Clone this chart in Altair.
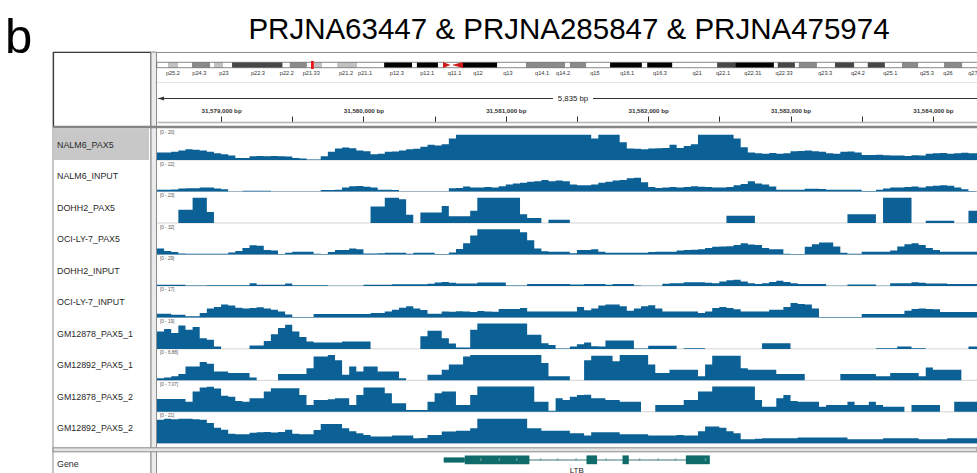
import altair as alt
import pandas as pd

FONT = "Liberation Sans"
BLUE = "#0b6196"
GENE_COLOR = "#0f6b69"
GENE_LINE = "#7ea3a3"

PANEL_LETTER = "b"
TITLE = "PRJNA63447 & PRJNA285847 & PRJNA475974"

# ---------------- genomic window / ruler ----------------
REGION_START = 31578550
REGION_END = 31584310
BIN_BP = 50
SPAN_TEXT = "5,835 bp"
RULER_TICKS = [31579000, 31579500, 31580000, 31580500, 31581000, 31581500,
               31582000, 31582500, 31583000, 31583500, 31584000]

# ---------------- tracks ----------------
TRACK_NAMES = ["NALM6_PAX5", "NALM6_INPUT", "DOHH2_PAX5", "OCI-LY-7_PAX5", "DOHH2_INPUT",
               "OCI-LY-7_INPUT", "GM12878_PAX5_1", "GM12892_PAX5_1", "GM12878_PAX5_2", "GM12892_PAX5_2"]
TRACK_MAX = [20, 22, 23, 32, 29, 17, 19, 6.88, 7.07, 21]
RANGE_LABELS = ["[0 - 20]", "[0 - 22]", "[0 - 23]", "[0 - 32]", "[0 - 29]", "[0 - 17]",
                "[0 - 19]", "[0 - 6.88]", "[0 - 7.07]", "[0 - 21]"]

NALM6_PAX5 = [
    5.9, 5.9, 6.5, 7.5, 8.5, 8.2, 7.5, 6.5, 5.3, 4.5,
    3.5, 1.5, 1.5, 3.0, 3.2, 3.0, 3.2, 3.0, 2.8, 1.5,
    1.2, 0.4, 0.3, 3.0, 6.5, 9.0, 9.8, 9.3, 7.5, 7.0,
    4.5, 5.0, 6.5, 6.8, 7.5, 8.5, 8.8, 10.5, 12.0, 11.5,
    12.5, 17.0, 20, 20, 20, 20, 20, 20, 20, 20,
    20, 20, 20, 20, 20, 20, 20, 20, 20, 20,
    20, 17.0, 20, 20, 20, 14.0, 9.0, 8.8, 8.5, 9.0,
    9.3, 9.5, 12.0, 9.5, 11.0, 12.5, 20, 20, 20, 20,
    20, 17.0, 10.0, 6.0, 5.3, 5.0, 5.5, 5.0, 5.3, 7.0,
    7.2, 7.5, 7.0, 6.5, 5.3, 5.0, 6.5, 6.7, 6.0, 4.0,
    4.0, 4.2, 3.8, 3.5, 3.5, 3.2, 3.8, 3.5, 5.0, 5.3,
    5.5, 5.0, 5.3, 5.8, 5.3, 5.3]

NALM6_INPUT = [
    1.5, 1.5, 1.8, 2.5, 2.9, 2.9, 3.5, 3.5, 2.5, 2.0,
    0.3, 0.3, 0.6, 0.6, 0.6, 0.6, 0.2, 0.2, 0.2, 0.2,
    0.2, 0.2, 0.2, 1.2, 1.3, 1.5, 3.5, 4.5, 4.7, 4.2,
    3.5, 1.5, 1.5, 1.2, 0.2, 0.2, 0.2, 0.2, 0.2, 0.2,
    0.2, 2.9, 3.0, 4.4, 3.5, 3.5, 3.8, 3.5, 4.5, 6.0,
    7.0, 7.5, 8.5, 9.0, 10.0, 9.0, 9.5, 9.0, 6.0, 5.5,
    5.5, 6.0, 7.5, 8.5, 9.5, 10.0, 11.5, 12.0, 8.0, 4.0,
    3.0, 3.5, 4.0, 3.5, 4.0, 4.5, 4.2, 4.0, 3.5, 3.5,
    4.0, 5.5, 6.5, 8.8, 7.0, 6.0, 4.4, 1.5, 1.5, 1.5,
    1.6, 2.3, 2.3, 2.2, 1.5, 1.5, 1.5, 1.5, 1.5, 0.4,
    0.4, 1.5, 2.5, 3.5, 3.5, 4.0, 4.4, 3.5, 4.5, 5.0,
    5.5, 5.0, 3.5, 2.0, 0.5, 0.3]

DOHH2_PAX5 = [
    0, 0, 0, 12, 12, 23, 23, 10, 0, 0,
    0, 0, 0, 0, 0, 0, 0, 0, 0, 0,
    0, 0, 0, 0, 0, 0, 0, 0, 0, 0,
    15, 15, 23, 23, 21.5, 7.5, 0, 9.6, 9.6, 9.6,
    15.5, 6, 6, 6, 11, 23, 23, 23, 23, 23,
    23, 8, 4.5, 4.5, 0, 3, 3, 3, 0, 0,
    0, 0, 0, 0, 0, 0, 0, 0, 0, 0,
    0, 0, 0, 0, 0, 0, 0, 0, 0, 0,
    6.6, 6.6, 6.6, 6.6, 0, 0, 0, 0, 0, 0,
    0, 0, 0, 0, 0, 0, 0, 8, 8, 8,
    8, 0, 23, 23, 23, 23, 0, 0, 2, 2,
    2, 2, 0, 0, 11, 11]

OCI_LY7_PAX5 = [
    7.6, 4.2, 3.0, 1.3, 0.8, 0.8, 0.8, 0.8, 0.8, 0.8,
    2.5, 4.5, 8.0, 11.5, 11.0, 5.5, 5.0, 0.5, 2.0, 3.4,
    3.4, 3.4, 1.0, 0.5, 3.0, 5.5, 5.5, 7.6, 6.5, 1.3,
    1.3, 1.5, 2.0, 2.0, 2.0, 1.0, 2.0, 2.0, 2.0, 0.5,
    0.5, 2.5, 7.0, 14.0, 24.0, 32, 32, 32, 32, 32,
    32, 28.0, 18.0, 7.6, 4.0, 3.4, 3.4, 3.4, 1.5, 5.5,
    5.5, 6.5, 3.4, 2.0, 2.0, 2.0, 2.0, 2.0, 2.0, 3.0,
    3.4, 3.4, 3.4, 5.0, 5.5, 6.0, 6.5, 8.0, 9.7, 10.0,
    10.5, 12.0, 14.0, 12.6, 12.0, 8.0, 6.7, 6.5, 1.0, 0.5,
    0.5, 9.7, 13.0, 15.0, 15.0, 10.0, 2.0, 1.0, 1.0, 3.4,
    3.4, 3.4, 3.4, 5.0, 10.0, 13.0, 14.0, 11.8, 8.0, 5.5,
    3.4, 3.4, 3.4, 3.4, 3.4, 3.4]

DOHH2_INPUT = [
    1.2, 1.2, 1.2, 1.2, 0.4, 0.4, 0.4, 0.8, 0.8, 0.8,
    0.8, 0.8, 0.8, 3.0, 1.2, 1.2, 1.2, 1.2, 2.7, 0.8,
    0.8, 0.8, 0.8, 0.8, 0.3, 0.3, 0.3, 0.3, 0.3, 1.2,
    1.2, 1.2, 1.2, 2.0, 2.0, 2.0, 2.0, 2.0, 2.5, 3.9,
    4.6, 3.5, 2.7, 2.7, 2.7, 3.9, 3.9, 3.9, 3.9, 0.4,
    0.4, 0.4, 2.3, 2.3, 2.3, 2.3, 2.3, 2.3, 1.5, 1.5,
    2.3, 2.3, 2.3, 1.2, 2.3, 2.3, 2.3, 0.5, 0.3, 0.3,
    0.3, 2.5, 3.0, 3.0, 4.3, 4.3, 4.3, 3.5, 3.0, 5.0,
    6.5, 7.0, 5.0, 3.0, 2.3, 3.0, 4.6, 6.0, 4.6, 3.0,
    2.3, 2.3, 2.3, 2.3, 0.3, 0.3, 0.3, 1.5, 1.5, 1.5,
    1.5, 0.3, 0.3, 3.0, 3.0, 3.0, 4.3, 3.5, 2.8, 2.8,
    2.8, 2.3, 2.3, 2.3, 2.3, 2.3]

OCI_LY7_INPUT = [
    2.5, 2.5, 1.8, 1.8, 0.7, 0.7, 3.0, 6.0, 7.0, 8.6,
    8.0, 6.5, 6.0, 6.3, 6.8, 6.0, 5.2, 4.0, 2.0, 0.3,
    0.3, 0.3, 2.3, 2.3, 2.3, 2.3, 2.3, 2.3, 2.3, 2.3,
    3.0, 3.0, 4.0, 5.2, 6.5, 7.5, 6.0, 5.0, 2.5, 2.5,
    4.0, 3.8, 4.2, 4.0, 3.6, 4.3, 4.0, 3.8, 5.7, 5.7,
    5.7, 6.3, 4.0, 4.0, 4.0, 4.0, 4.0, 4.0, 4.0, 7.0,
    4.8, 6.0, 8.0, 8.6, 8.6, 7.5, 4.5, 6.0, 7.5, 8.2,
    6.0, 4.0, 4.0, 4.0, 4.0, 4.0, 3.0, 4.0, 6.3, 7.0,
    6.3, 5.5, 4.0, 4.0, 4.0, 4.0, 5.2, 5.2, 7.0, 9.7,
    9.0, 8.6, 6.0, 0.3, 0.3, 0.3, 0.3, 0.3, 0.3, 2.3,
    2.3, 2.3, 2.3, 2.3, 2.3, 4.5, 5.7, 6.0, 5.7, 5.5,
    3.6, 3.6, 3.6, 3.6, 3.6, 3.6]

GM12878_PAX5_1 = [
    13.0, 15.0, 12.0, 17.5, 14.4, 16.5, 8.0, 6.8, 1.8, 0,
    0, 0, 0, 2.5, 2.5, 6.0, 11.0, 15.7, 18.2, 13.0,
    9.0, 5.5, 4.8, 4.8, 4.8, 4.8, 5.6, 5.6, 5.6, 5.6,
    0, 0, 0, 0, 0, 0, 0, 9.4, 13.7, 13.7,
    8.0, 4.0, 1.0, 1.0, 14.4, 19, 19, 19, 19, 19,
    19, 19, 10.6, 10.6, 4.3, 3.0, 0.3, 0.3, 1.8, 3.5,
    4.8, 2.0, 1.8, 6.3, 6.3, 6.3, 6.3, 0.3, 0.3, 2.3,
    2.3, 2.3, 2.3, 0, 0.5, 0.5, 0.5, 0, 0, 0,
    0, 0, 0, 0, 0, 4.3, 4.3, 4.3, 4.3, 0,
    0, 0, 0, 0, 0, 0, 0, 0, 0, 0,
    0, 0.5, 0.5, 0.5, 1.8, 1.8, 0.5, 0.5, 0, 0,
    0, 0, 0, 0, 1.8, 1.8]

GM12892_PAX5_1 = [
    0.6, 0.8, 1.1, 1.7, 3.8, 3.8, 5.0, 4.5, 2.4, 2.4,
    2.0, 2.0, 2.0, 0.8, 0, 0, 0, 1.7, 1.7, 1.7,
    1.7, 3.3, 6.5, 6.5, 6.88, 5.5, 1.5, 3.8, 2.4, 3.8,
    3.8, 2.4, 2.4, 2.4, 0.6, 0, 0, 0, 1.5, 1.5,
    2.9, 4.3, 4.3, 6.5, 6.88, 6.88, 6.88, 6.88, 6.88, 6.88,
    6.88, 6.88, 6.88, 6.88, 4.7, 1.1, 1.1, 1.1, 0, 0,
    5.5, 6.7, 6.7, 6.7, 5.2, 6.88, 6.88, 6.88, 6.88, 4.3,
    2.0, 2.0, 2.9, 2.9, 2.9, 2.9, 1.1, 4.3, 6.7, 6.7,
    6.7, 6.7, 3.3, 2.9, 2.9, 2.9, 2.9, 1.7, 1.7, 1.7,
    1.7, 0, 0, 0, 0, 0, 1.7, 1.7, 1.7, 1.7,
    1.7, 1.1, 1.1, 2.0, 2.0, 2.0, 2.0, 1.1, 3.5, 2.9,
    2.9, 2.9, 2.9, 0, 0, 0]

GM12878_PAX5_2 = [
    3.6, 3.6, 3.6, 3.6, 2.8, 5.7, 6.8, 7.0, 6.5, 4.5,
    4.2, 3.0, 2.8, 3.8, 3.8, 5.7, 6.6, 6.6, 6.6, 6.6,
    4.7, 1.9, 3.3, 3.3, 3.5, 3.8, 3.8, 1.9, 4.7, 6.8,
    6.8, 6.8, 5.2, 2.4, 2.4, 0.5, 0.5, 0.5, 2.8, 5.2,
    5.7, 5.7, 1.9, 1.9, 4.7, 7.07, 7.07, 7.07, 7.07, 7.07,
    7.07, 7.07, 7.07, 2.8, 2.8, 0.3, 3.8, 3.3, 4.2, 4.7,
    4.8, 3.8, 3.8, 3.3, 3.3, 2.8, 2.8, 2.8, 0, 0,
    1.9, 1.9, 1.9, 1.9, 3.3, 3.3, 5.7, 5.7, 7.07, 7.07,
    7.07, 7.07, 7.07, 7.07, 3.3, 1.4, 1.4, 3.8, 4.7, 3.0,
    2.8, 2.8, 2.8, 1.4, 1.9, 1.9, 1.9, 2.8, 1.9, 1.9,
    2.8, 1.9, 1.4, 1.4, 1.4, 0, 1.9, 1.9, 1.9, 1.9,
    0, 0, 2.8, 2.8, 2.8, 2.8]

GM12892_PAX5_2 = [
    19.6, 20.4, 20.0, 20.4, 20.4, 20.0, 19.5, 16.8, 13.0, 11.2,
    8.0, 7.6, 7.6, 8.8, 9.2, 9.5, 9.0, 9.4, 11.2, 8.0,
    7.6, 7.6, 11.0, 16.0, 16.0, 16.0, 12.6, 10.0, 8.4, 7.0,
    5.6, 5.6, 5.6, 6.4, 6.4, 6.4, 4.2, 4.5, 7.0, 7.0,
    9.8, 9.8, 10.5, 10.5, 12.6, 20.4, 20.4, 20.4, 20.4, 20.4,
    20.4, 20.4, 12.6, 12.6, 10.4, 10.4, 10.4, 10.4, 8.4, 8.4,
    6.4, 9.2, 9.2, 9.2, 9.2, 7.6, 7.6, 7.6, 7.6, 6.4,
    6.4, 6.4, 6.4, 7.0, 6.4, 6.4, 10.0, 14.0, 14.0, 13.0,
    10.0, 8.4, 3.4, 3.4, 3.8, 4.2, 4.2, 4.2, 4.2, 4.2,
    4.8, 4.8, 4.8, 4.8, 4.8, 4.8, 4.8, 3.4, 3.4, 3.4,
    3.4, 3.4, 4.2, 4.2, 4.2, 4.2, 4.2, 3.4, 3.4, 3.4,
    3.4, 4.2, 4.2, 4.2, 4.2, 4.2]

TRACK_VALUES = [NALM6_PAX5, NALM6_INPUT, DOHH2_PAX5, OCI_LY7_PAX5, DOHH2_INPUT,
                OCI_LY7_INPUT, GM12878_PAX5_1, GM12892_PAX5_1, GM12878_PAX5_2, GM12892_PAX5_2]

# ---------------- chromosome 6 ideogram (Mb) ----------------
CHROM_LEN = 171.1
BAND_START = [2.3, 7.2, 11.7, 15.4, 27.2, 31.9, 36.9, 46.5, 53.2, 62.6, 75.5,
              84.5, 92.7, 100.3, 114.6, 118.3, 127.0, 131.3, 138.7, 145.4, 152.4, 161.0]
BAND_END = [4.35, 10.9, 13.55, 25.7, 30.7, 33.8, 40.95, 52.2, 57.5, 69.6, 83.5,
            87.8, 99.2, 105.4, 118.3, 126.2, 130.5, 135.0, 142.6, 148.9, 155.7, 164.7]
BAND_STAIN = ["gpos25", "gpos50", "gpos25", "gpos75", "gpos50", "gpos25", "gpos25", "gpos100",
              "gpos100", "gpos100", "gpos50", "gpos50", "gpos100", "gpos100", "gpos75", "gpos100",
              "gpos75", "gpos50", "gpos75", "gpos75", "gpos50", "gpos50"]
BAND_LABELS = ["p25.2", "p24.3", "p23", "p22.3", "p22.2", "p21.33", "p21.2", "p21.1", "p12.3",
               "p12.1", "q11.1", "q12", "q13", "q14.1", "q14.2", "q15", "q16.1", "q16.3", "q21",
               "q22.1", "q22.31", "q22.33", "q23.3", "q24.2", "q25.1", "q25.3", "q26", "q27"]
BAND_LABEL_MB = [3.3, 8.7, 13.75, 20.7, 26.6, 31.6, 38.7, 42.6, 49.1, 55.3, 60.9, 65.7, 71.8,
                 78.8, 83.1, 89.6, 96.2, 102.9, 110.5, 115.8, 121.9, 128.3, 136.7, 143.4, 150.0,
                 157.5, 161.8, 166.9]
CEN_P_MB = 59.3
CEN_Q_MB = 61.5
LOCUS_MB = [31.55, 32.1]

# ---------------- gene ----------------
GENE_NAME = "LTB"
GENE_SPAN = [31580564, 31582433]
UTR_START = [31580564]
UTR_END = [31580712]
EXON_START = [31580712, 31581567, 31581820, 31582265]
EXON_END = [31581166, 31581641, 31581864, 31582433]
ARROW_EXON = [31580824, 31580954, 31581077, 31582403]
ARROW_INTRON = [31581244, 31581362, 31581492, 31581704, 31581938, 31582068, 31582191]

# ---------------- layout (pixels) ----------------
W, H = 977, 473
X0, X1 = 157, 977
BASE0, PITCH, TRACK_H = 160.0, 31.48, 25.3

ONE = pd.DataFrame({"k": [0]})


def box(x1, x2, y1, y2, fill, stroke=None, sw=0.0):
    kw = dict(fill=fill)
    if stroke is not None:
        kw.update(stroke=stroke, strokeWidth=sw)
    return alt.Chart(ONE).mark_rect(**kw).encode(
        x=alt.value(x1), x2=alt.value(x2), y=alt.value(y1), y2=alt.value(y2))


def hline(x1, x2, y, color, sw=1.0):
    return alt.Chart(ONE).mark_rule(color=color, strokeWidth=sw).encode(
        x=alt.value(x1), x2=alt.value(x2), y=alt.value(y))


def label(s, x, y, size, **kw):
    return alt.Chart(ONE).mark_text(text=s, fontSize=size, font=FONT, **kw).encode(
        x=alt.value(x), y=alt.value(y))


def gscale():
    return alt.Scale(domain=[REGION_START, REGION_END], range=[X0, X1], clamp=True)


IDEO_X0, IDEO_PX_PER_MB = 156.75, 4.89


def iscale():
    return alt.Scale(domain=[0, CHROM_LEN], range=[IDEO_X0, IDEO_X0 + CHROM_LEN * IDEO_PX_PER_MB])


layers = []

# panels
layers.append(box(53, 151, 52, 480, "white", "#8c8c8c", 1))
layers.append(box(53.5, 151, 52.5, 126.5, "white", "#3a3a3a", 1.2))
layers.append(box(54, 149, 128.5, 160, "#c8c8c8"))
layers.append(box(151, 156.5, 52, 480, "#ebebeb", "#8c8c8c", 1))
layers.append(hline(156.5, W, 52.5, "#8c8c8c", 1))

# ideogram
chrom_df = pd.DataFrame({"s": [0.0], "e": [CHROM_LEN]})
bands_df = pd.DataFrame({"s": BAND_START, "e": BAND_END, "stain": BAND_STAIN})
layers.append(alt.Chart(bands_df).mark_rect().encode(
    x=alt.X("s:Q", scale=iscale(), axis=None), x2="e:Q",
    y=alt.value(62.3), y2=alt.value(67.7),
    color=alt.Color("stain:N", legend=None,
                    scale=alt.Scale(domain=["gpos25", "gpos50", "gpos75", "gpos100"],
                                    range=["#c2c2c2", "#8a8a8a", "#464646", "#000000"]))))
layers.append(alt.Chart(chrom_df).mark_rect(filled=False, stroke="#6a6a6a", strokeWidth=0.8).encode(
    x=alt.X("s:Q", scale=iscale(), axis=None), x2="e:Q", y=alt.value(62.3), y2=alt.value(67.7)))
layers.append(alt.Chart(pd.DataFrame({"m": [CEN_P_MB]})).mark_point(
    shape="M-1,-0.8L1,0L-1,0.8Z", size=56, filled=True, color="#d01818", opacity=1).encode(
    x=alt.X("m:Q", scale=iscale(), axis=None), y=alt.value(65)))
layers.append(alt.Chart(pd.DataFrame({"m": [CEN_Q_MB]})).mark_point(
    shape="M1,-0.55L-1,0L1,0.55Z", size=121, filled=True, color="#d01818", opacity=1).encode(
    x=alt.X("m:Q", scale=iscale(), axis=None), y=alt.value(65)))
layers.append(alt.Chart(pd.DataFrame({"s": [LOCUS_MB[0]], "e": [LOCUS_MB[1]]})).mark_rect(
    color="#ee1111").encode(
    x=alt.X("s:Q", scale=iscale(), axis=None), x2="e:Q", y=alt.value(61), y2=alt.value(69)))
layers.append(alt.Chart(pd.DataFrame({"t": BAND_LABELS, "m": BAND_LABEL_MB})).mark_text(
    font=FONT, fontSize=5.6, color="#333333", baseline="middle").encode(
    x=alt.X("m:Q", scale=iscale(), axis=None), y=alt.value(73.2), text="t:N"))

layers.append(hline(157, W, 82.5, "#e2e2e2", 1))

# span arrow
layers.append(hline(158, 553, 98.5, "#333333", 1))
layers.append(hline(593, W, 98.5, "#333333", 1))
layers.append(alt.Chart(ONE).mark_point(shape="M1,-0.65L-1,0L1,0.65Z", size=36, filled=True,
                                        color="#333333", opacity=1).encode(
    x=alt.value(161), y=alt.value(98.5)))
layers.append(label(SPAN_TEXT, 573, 98.5, 7.8, color="#222222", align="center", baseline="middle"))

# header / data separator
layers.append(box(53, W, 125.8, 128.2, "#858585"))

RULER_AXIS = alt.Axis(
    orient="top", offset=-122, values=RULER_TICKS,
    labelExpr="datum.value % 1000 == 0 ? format(datum.value, ',') + ' bp' : ''",
    tickSize=6, tickColor="#333333", tickWidth=1,
    domainColor="#b4b4b4", domainWidth=1.5,
    labelFont=FONT, labelFontSize=6.2, labelFontWeight="bold", labelColor="#333333",
    labelPadding=2.5, labelFlush=False, labelOverlap=False, labelBound=False,
    grid=False, title=None)

# tracks
for i, (name, mx, vals) in enumerate(zip(TRACK_NAMES, TRACK_MAX, TRACK_VALUES)):
    base = BASE0 + PITCH * i
    ysc = alt.Scale(domain=[0, mx], range=[base, base - TRACK_H], clamp=True)
    pos = [REGION_START + BIN_BP * k for k in range(len(vals) + 1)]
    df = pd.DataFrame({"pos": pos, "value": list(vals) + [vals[-1]]})
    layers.append(alt.Chart(ONE).mark_rule(color="#d4d4d4", strokeWidth=1).encode(
        x=alt.value(X0), x2=alt.value(X1),
        y=alt.YDatum(0, type="quantitative", scale=ysc, axis=None)))
    layers.append(alt.Chart(df).mark_area(interpolate="step-after", color=BLUE, opacity=1).encode(
        x=alt.X("pos:Q", scale=gscale(), axis=RULER_AXIS if i == 0 else None),
        y=alt.Y("value:Q", scale=ysc, axis=None)))

names_df = pd.DataFrame({"name": TRACK_NAMES, "rng": RANGE_LABELS})
layers.append(alt.Chart(names_df).mark_text(
    font=FONT, fontSize=4.6, color="#555555", align="left", baseline="middle").encode(
    x=alt.value(160),
    y=alt.Y("name:N", axis=None,
            scale=alt.Scale(type="point", domain=TRACK_NAMES, range=[133.3, 416.0], padding=0)),
    text="rng:N"))
layers.append(alt.Chart(names_df).mark_text(
    font=FONT, fontSize=8.9, color="#2a2a2a", align="left", baseline="middle").encode(
    x=alt.value(57),
    y=alt.Y("name:N", axis=None,
            scale=alt.Scale(type="point", domain=TRACK_NAMES, range=[144.5, 428.3], padding=0)),
    text="name:N"))

# lower separator
layers.append(box(53, W, 447.8, 451.8, "#e4e4e4", "#8a8a8a", 1))

# gene track
layers.append(label("Gene", 57, 464, 8.9, color="#2a2a2a", align="left", baseline="middle"))
layers.append(alt.Chart(pd.DataFrame({"s": [GENE_SPAN[0]], "e": [GENE_SPAN[1]]})).mark_rule(
    color=GENE_LINE, strokeWidth=1.3).encode(
    x=alt.X("s:Q", scale=gscale(), axis=None), x2="e:Q", y=alt.value(460)))
layers.append(alt.Chart(pd.DataFrame({"s": ARROW_INTRON})).mark_text(
    text="\u2039", font=FONT, fontSize=7, color="#4f8a88", baseline="middle").encode(
    x=alt.X("s:Q", scale=gscale(), axis=None), y=alt.value(459.6)))
layers.append(alt.Chart(pd.DataFrame({"s": UTR_START, "e": UTR_END})).mark_rect(
    color=GENE_COLOR).encode(
    x=alt.X("s:Q", scale=gscale(), axis=None), x2="e:Q", y=alt.value(457.4), y2=alt.value(462.6)))
layers.append(alt.Chart(pd.DataFrame({"s": EXON_START, "e": EXON_END})).mark_rect(
    color=GENE_COLOR).encode(
    x=alt.X("s:Q", scale=gscale(), axis=None), x2="e:Q", y=alt.value(455.4), y2=alt.value(464.2)))
layers.append(alt.Chart(pd.DataFrame({"s": ARROW_EXON})).mark_text(
    text="\u2039", font=FONT, fontSize=7, color="#9fc4c2", baseline="middle").encode(
    x=alt.X("s:Q", scale=gscale(), axis=None), y=alt.value(459.6)))
layers.append(alt.Chart(pd.DataFrame({"s": [GENE_SPAN[0]], "e": [GENE_SPAN[1]], "g": [GENE_NAME]}))
              .transform_calculate(mid="(datum.s + datum.e) / 2")
              .mark_text(font=FONT, fontSize=8, color="#222222", baseline="alphabetic")
              .encode(x=alt.X("mid:Q", scale=gscale(), axis=None), y=alt.value(472.5), text="g:N"))

# titles
layers.append(label(PANEL_LETTER, 5, 53, 49, color="#000000", align="left", baseline="alphabetic"))
layers.append(label(TITLE, 569, 38.5, 29.5, color="#000000", align="center", baseline="alphabetic"))

chart = alt.layer(*layers).resolve_scale(
    x="independent", y="independent", color="independent"
).properties(
    width=W, height=H, autosize=alt.AutoSizeParams(type="none"), padding=0, background="white"
).configure_view(stroke=None)

chart.save("out.html", embed_options={"renderer": "svg", "actions": False})
